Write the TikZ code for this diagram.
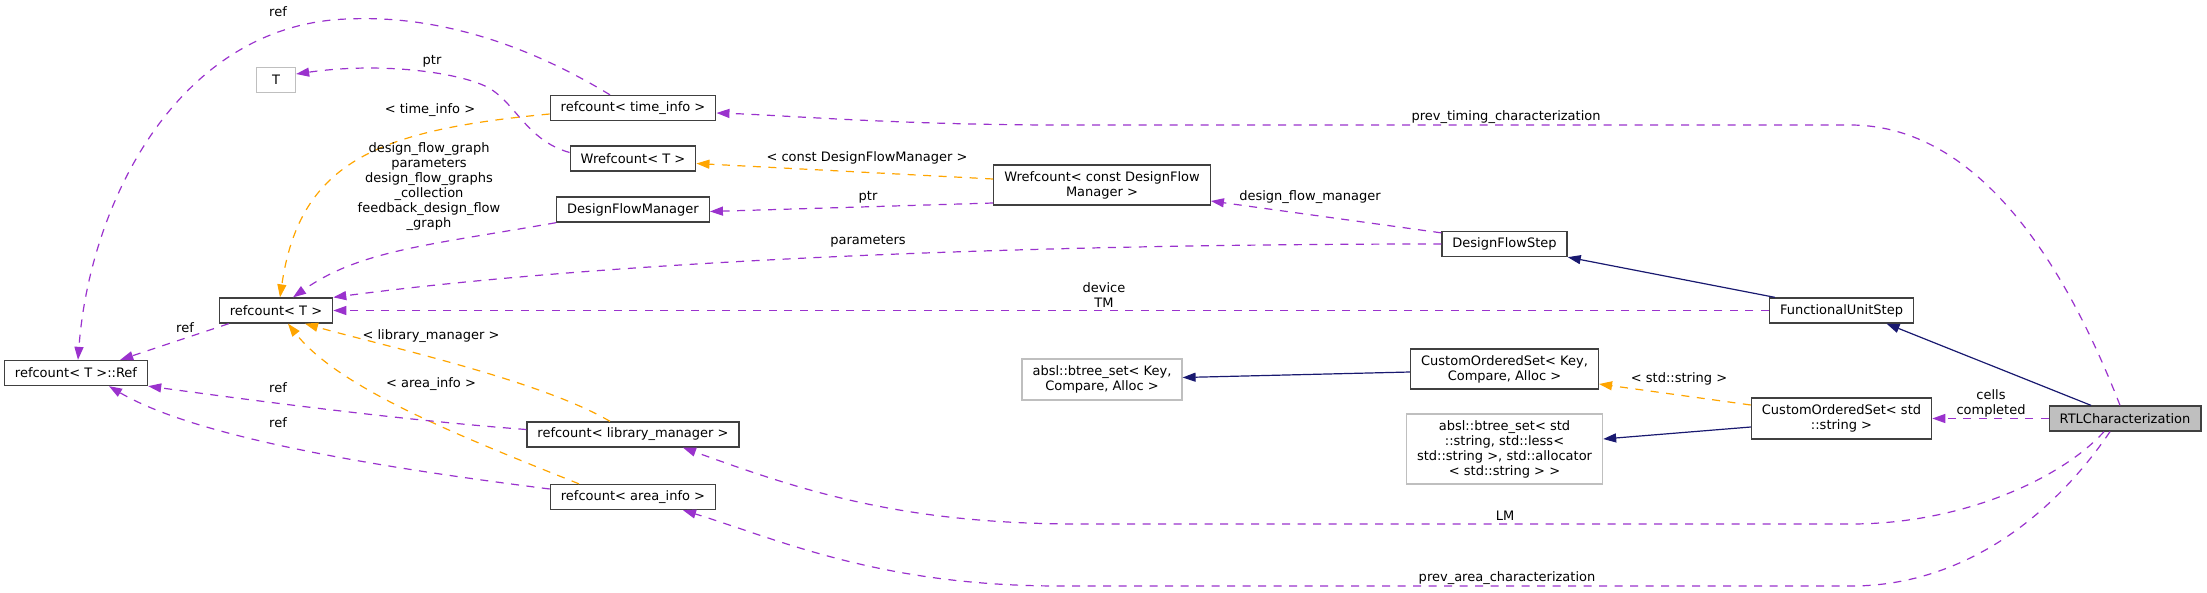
\documentclass[tikz,border=0pt]{standalone}
\usepackage{fontspec}
\setmainfont{DejaVu Sans}
\usetikzlibrary{arrows.meta, calc}
\definecolor{cpurple}{HTML}{9A32CD}
\definecolor{corange}{HTML}{FFA500}
\definecolor{cnavy}{HTML}{191970}
\definecolor{cgrey}{HTML}{BFBFBF}
\definecolor{cframe}{HTML}{404040}
\tikzset{
  every picture/.style={x=1pt, y=-1pt, line width=1.3pt},
  every node/.style={font=\fontsize{13}{15}\selectfont},
  cls/.style={draw=#1, fill=white, line width=1.3pt, align=center, inner xsep=10.5pt, inner ysep=3pt, minimum height=25pt},
  cls/.default=cframe,
  extcls/.style={cls=cgrey},
  root/.style={cls, fill=cgrey},
  uses/.style={draw=cpurple, line width=1.2pt, dash pattern=on 8pt off 7.5pt, -{Triangle[length=13pt, width=9pt]}},
  tmpl/.style={uses, draw=corange},
  inh/.style={draw=cnavy, line width=1.2pt, -{Triangle[length=13pt, width=9pt]}},
  lbl/.style={inner sep=0pt, align=center},
}

\begin{document}
\begin{tikzpicture}
  \useasboundingbox (0,0) rectangle (2207,592);
  % classes
  \node[extcls, minimum width=39pt] (T) at (276,80) {T};
  \node[cls] (tinfo) at (633,108) {refcount< time\_info >};
  \node[cls] (wrefT) at (633,158.5) {Wrefcount< T >};
  \node[cls] (dfm) at (633,209.5) {DesignFlowManager};
  \node[cls] (rcT) at (276,310.5) {refcount< T >};
  \node[cls] (ref) at (76,373) {refcount< T >::Ref};
  \node[cls] (libm) at (633,434.5) {refcount< library\_manager >};
  \node[cls] (area) at (633,497) {refcount< area\_info >};
  \node[cls, minimum height=40pt] (wdfm) at (1102,185) {Wrefcount< const DesignFlow\\Manager >};
  \node[cls] (dfs) at (1504.5,244) {DesignFlowStep};
  \node[extcls, minimum height=41pt] (abslK) at (1102,379.5) {absl::btree\_set< Key,\\Compare, Alloc >};
  \node[cls, minimum height=40pt] (cosK) at (1504.5,369) {CustomOrderedSet< Key,\\Compare, Alloc >};
  \node[extcls, minimum height=70pt] (abslS) at (1504.5,449) {absl::btree\_set< std\\::string, std::less<\\ std::string >, std::allocator\\< std::string > >};
  \node[cls] (fus) at (1841.5,310.5) {FunctionalUnitStep};
  \node[cls, minimum height=41pt] (cosS) at (1841.5,418.5) {CustomOrderedSet< std\\::string >};
  \node[root] (rtl) at (2125,418.5) {RTLCharacterization};

  % usage and template links
  \draw[uses] ($(rtl.north)+(-5,0)$) .. controls (2075,290) and (1990,125) .. (1850,125) -- (1060,125) .. controls (900,125) and (780,115) .. ($(tinfo.east)+(0,5)$);
  \draw[uses] ($(tinfo.north)+(-23,0)$) .. controls (520,40) and (430,15) .. (347,19) .. controls (180,25) and (90,200) .. ($(ref.north)+(2,0)$);
  \draw[uses] ($(wrefT.west)+(0,-6)$) .. controls (525,140) and (515,100) .. (485,86) .. controls (455,72) and (380,62) .. ($(T.east)+(0,-6)$);
  \draw[tmpl] ($(tinfo.west)+(0,6)$) .. controls (380,130) and (300,160) .. ($(rcT.north)+(4,0)$);
  \draw[tmpl] ($(wdfm.west)+(0,-6)$) -- ($(wrefT.east)+(0,5)$);
  \draw[uses] ($(wdfm.west)+(0,18)$) -- ($(dfm.east)+(0,2)$);
  \draw[uses] (dfm.south west) .. controls (430,245) and (360,250) .. ($(rcT.north)+(17,0)$);
  \draw[uses] ($(dfs.north west)+(0,2)$) -- ($(wdfm.east)+(0,16)$);
  \draw[uses] (dfs.west) .. controls (1000,244) and (600,262) .. (rcT.north east);
  \draw[uses] (fus.west) -- (rcT.east);
  \draw[tmpl] ($(cosS.west)+(0,-13.5)$) -- ($(cosK.east)+(0,15)$);
  \draw[uses] (rtl.west) -- (cosS.east);
  \draw[uses] ($(rtl.south)+(-21,0)$) .. controls (2060,480) and (1960,524) .. (1851,524) -- (1080,524) .. controls (900,524) and (800,490) .. ($(libm.south)+(50,0)$);
  \draw[uses] ($(rtl.south)+(-15,0)$) .. controls (2050,520) and (1960,586) .. (1851,586) -- (1060,586) .. controls (880,586) and (780,540) .. ($(area.south)+(50,0)$);
  \draw[tmpl] ($(libm.north)+(-23,0)$) .. controls (540,380) and (380,345) .. ($(rcT.south)+(29,0)$);
  \draw[tmpl] ($(area.north)+(-54,0)$) .. controls (470,440) and (340,390) .. ($(rcT.south)+(12,0)$);
  \draw[uses] ($(libm.west)+(0,-5)$) .. controls (400,420) and (250,400) .. (ref.south east);
  \draw[uses] ($(area.west)+(0,-8)$) .. controls (400,470) and (200,440) .. ($(ref.south)+(33,0)$);
  \draw[uses] ($(rcT.south west)+(10,0)$) -- ($(ref.north east)+(-28,0)$);

  % inheritance
  \draw[inh] ($(fus.north west)+(6,0)$) -- (dfs.south east);
  \draw[inh] ($(rtl.north)+(-34,0)$) -- ($(fus.south)+(45,0)$);
  \draw[inh] ($(cosK.west)+(0,3)$) -- ($(abslK.east)+(0,-2)$);
  \draw[inh] ($(cosS.west)+(0,8.5)$) -- ($(abslS.east)+(0,-10)$);

  % edge labels
  \node[lbl] (lref1) at (278,12) {ref};
  \node[lbl] (lptr1) at (432,61) {ptr};
  \node[lbl] (ltinfo) at (430,110) {< time\_info >};
  \node[lbl] (ldfm) at (429,187) {design\_flow\_graph\\parameters\\design\_flow\_graphs\\\_collection\\feedback\_design\_flow\\\_graph};
  \node[lbl] (lprevt) at (1506,117) {prev\_timing\_characterization};
  \node[lbl] (lcdfm) at (867,158) {< const DesignFlowManager >};
  \node[lbl] (lptr2) at (868,197) {ptr};
  \node[lbl] (ldfmgr) at (1310,197) {design\_flow\_manager};
  \node[lbl] (lparams) at (868,241) {parameters};
  \node[lbl] (ldev) at (1104,295) {device\\TM};
  \node[lbl] (lref2) at (185,328) {ref};
  \node[lbl] (llibm) at (431,336) {< library\_manager >};
  \node[lbl] (larea) at (431,384) {< area\_info >};
  \node[lbl] (lref3) at (278,388) {ref};
  \node[lbl] (lref4) at (278,423) {ref};
  \node[lbl] (lstr) at (1679,379) {< std::string >};
  \node[lbl] (lcells) at (1991,403) {cells\\completed};
  \node[lbl] (llm) at (1505,516) {LM};
  \node[lbl] (lpreva) at (1507,578) {prev\_area\_characterization};
\end{tikzpicture}
\end{document}
